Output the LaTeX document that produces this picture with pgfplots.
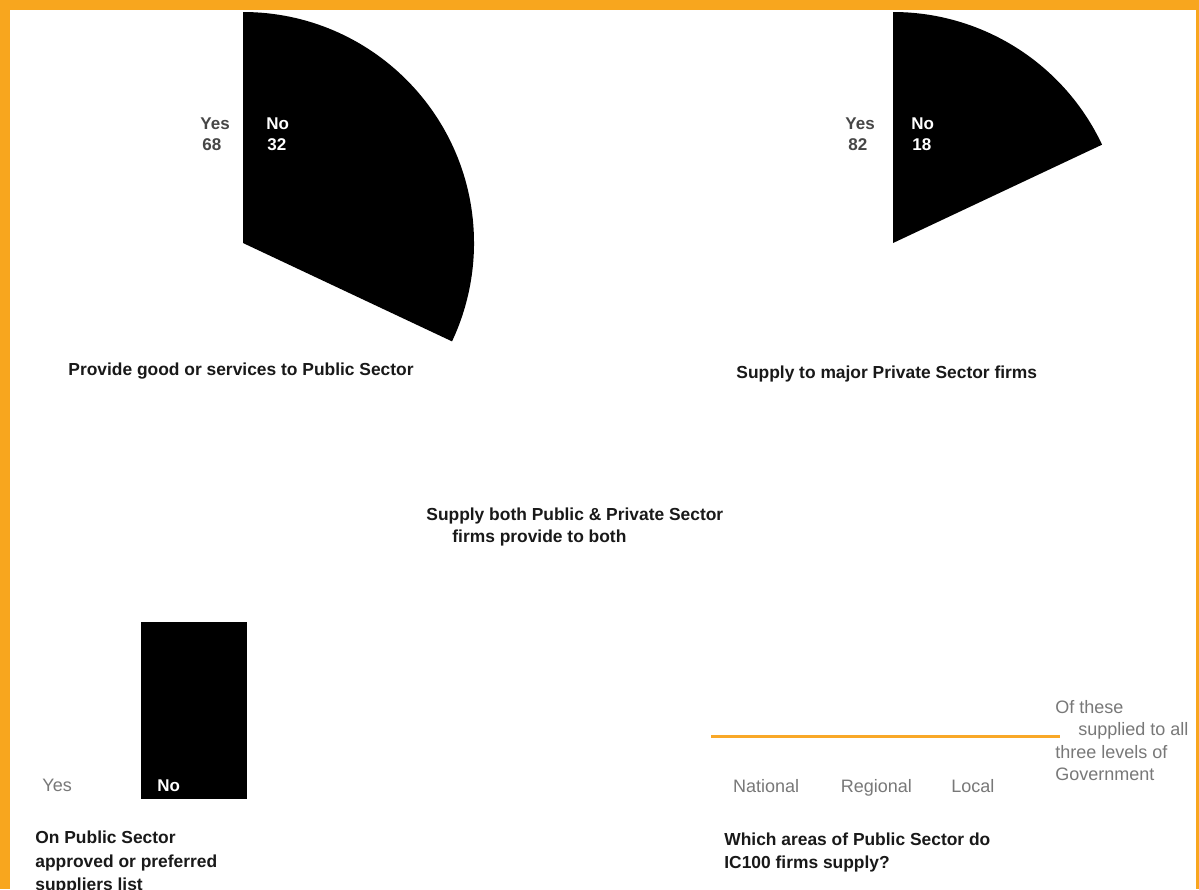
\documentclass[border=0pt]{standalone}
\usepackage{pgfplots}
\pgfplotsset{compat=1.18}
\usepackage{pgfplotstable}
\usepackage{fontspec}
\setmainfont{Liberation Sans}
\definecolor{frame}{RGB}{248,166,30}
\definecolor{lineor}{RGB}{249,168,40}
\definecolor{txt}{RGB}{25,25,25}
\definecolor{lbl}{RGB}{120,120,120}
\definecolor{pielbl}{RGB}{70,70,70}

\pgfplotstableread{
answer value
Yes 68
No 32
}\publicpie
\pgfplotstableread{
answer value
Yes 82
No 18
}\privatepie
\pgfplotstableread{
x value
-0.524 36
2.8 36
}\alllevels

\pgfplotstablegetelem{1}{value}\of\publicpie
\edef\pubNo{\pgfplotsretval}
\pgfplotstablegetelem{1}{value}\of\privatepie
\edef\privNo{\pgfplotsretval}
\pgfmathsetmacro\pubEnd{90-3.6*\pubNo}
\pgfmathsetmacro\pubYesEnd{90+3.6*(100-\pubNo)}
\pgfmathsetmacro\privEnd{90-3.6*\privNo}
\pgfmathsetmacro\privYesEnd{90+3.6*(100-\privNo)}

\newcommand\ttl{\fontsize{8.7bp}{11bp}\selectfont\bfseries}
\newcommand\lb{\fontsize{9bp}{11bp}\selectfont}
\newcommand\pl{\fontsize{8.5bp}{10bp}\selectfont\bfseries}

\begin{document}
\begin{tikzpicture}[x=0.5bp,y=-0.5bp]
\useasboundingbox (0,0) rectangle (1199,889);
\clip (0,0) rectangle (1199,889);
\fill[white] (0,0) rectangle (1199,889);

% Pie 1
\begin{axis}[at={(121.5bp,-121.5bp)}, anchor=center, hide axis, scale only axis,
  width=231bp, height=231bp, xmin=-1, xmax=1, ymin=-1, ymax=1]
\fill[white] (axis cs:0,0) -- ++(90:115.5bp) arc[start angle=90, end angle=\pubYesEnd, radius=115.5bp] -- cycle;
\fill[black] (axis cs:0,0) -- ++(90:115.5bp) arc[start angle=90, end angle=\pubEnd, radius=115.5bp] -- cycle;
\end{axis}

% Pie 2
\begin{axis}[at={(446.5bp,-121.5bp)}, anchor=center, hide axis, scale only axis,
  width=231bp, height=231bp, xmin=-1, xmax=1, ymin=-1, ymax=1]
\fill[white] (axis cs:0,0) -- ++(90:115.5bp) arc[start angle=90, end angle=\privYesEnd, radius=115.5bp] -- cycle;
\fill[black] (axis cs:0,0) -- ++(90:115.5bp) arc[start angle=90, end angle=\privEnd, radius=115.5bp] -- cycle;
\end{axis}

% Bar chart: approved list
\begin{axis}[at={(10.75bp,-399.5bp)}, anchor=south west, hide axis, scale only axis,
  width=115bp, height=188.5bp, xmin=-0.5, xmax=1.5, ymin=0, ymax=100,
  ybar, bar width=53bp, bar shift=0pt]
\addplot[fill=white, draw=none] coordinates {(0,53)};
\addplot[fill=black, draw=none] coordinates {(1,47)};
\end{axis}

% Public sector levels
\begin{axis}[at={(355.5bp,-386bp)}, anchor=south west, scale only axis,
  width=174.5bp, height=50bp, xmin=-0.524, xmax=2.8, ymin=0, ymax=100,
  axis line style={draw=none}, major tick length=0pt, ytick=\empty,
  xtick={0,1.05,1.97}, xticklabels={National,Regional,Local},
  xticklabel style={font=\lb, text=lbl}]
\addplot[lineor, line width=1.5bp] table[x=x, y=value] {\alllevels};
\end{axis}

% Pie labels
\node[anchor=base west, inner sep=0, text=pielbl, font=\pl] at (200,129) {Yes};
\node[anchor=base west, inner sep=0, text=pielbl, font=\pl] at (202,150) {68};
\node[anchor=base west, inner sep=0, text=white, font=\pl] at (266,129) {No};
\node[anchor=base west, inner sep=0, text=white, font=\pl] at (267,150) {32};
\node[anchor=base west, inner sep=0, text=pielbl, font=\pl] at (845,129) {Yes};
\node[anchor=base west, inner sep=0, text=pielbl, font=\pl] at (848,150) {82};
\node[anchor=base west, inner sep=0, text=white, font=\pl] at (911,129) {No};
\node[anchor=base west, inner sep=0, text=white, font=\pl] at (912,150) {18};

% Bar labels
\node[anchor=base west, inner sep=0, text=lbl, font=\lb] at (42,791) {Yes};
\node[anchor=base west, inner sep=0, text=white, font=\pl] at (157,791) {No};

% Titles
\node[anchor=base west, inner sep=0, text=txt, font=\ttl] at (68,375) {Provide good or services to Public Sector};
\node[anchor=base west, inner sep=0, text=txt, font=\ttl] at (736,378) {Supply to major Private Sector firms};
\node[anchor=base west, inner sep=0, text=txt, font=\ttl] at (426,520) {Supply both Public \& Private Sector};
\node[anchor=base west, inner sep=0, text=txt, font=\ttl] at (452,542) {firms provide to both};
\node[anchor=base west, inner sep=0, text=txt, font=\ttl] at (35,843) {On Public Sector};
\node[anchor=base west, inner sep=0, text=txt, font=\ttl] at (35,867) {approved or preferred};
\node[anchor=base west, inner sep=0, text=txt, font=\ttl] at (35,890) {suppliers list};
\node[anchor=base west, inner sep=0, text=txt, font=\ttl] at (724,845) {Which areas of Public Sector do};
\node[anchor=base west, inner sep=0, text=txt, font=\ttl] at (724,868) {IC100 firms supply?};

% Note
\node[anchor=base west, inner sep=0, text=lbl, font=\lb] at (1055,713) {Of these};
\node[anchor=base west, inner sep=0, text=lbl, font=\lb] at (1078,735) {supplied to all};
\node[anchor=base west, inner sep=0, text=lbl, font=\lb] at (1055,758) {three levels of};
\node[anchor=base west, inner sep=0, text=lbl, font=\lb] at (1055,780) {Government};

% Frame
\fill[frame] (0,0) rectangle (1199,10);
\fill[frame] (0,0) rectangle (10,889);
\fill[frame] (1196,0) rectangle (1199,889);
\end{tikzpicture}
\end{document}
